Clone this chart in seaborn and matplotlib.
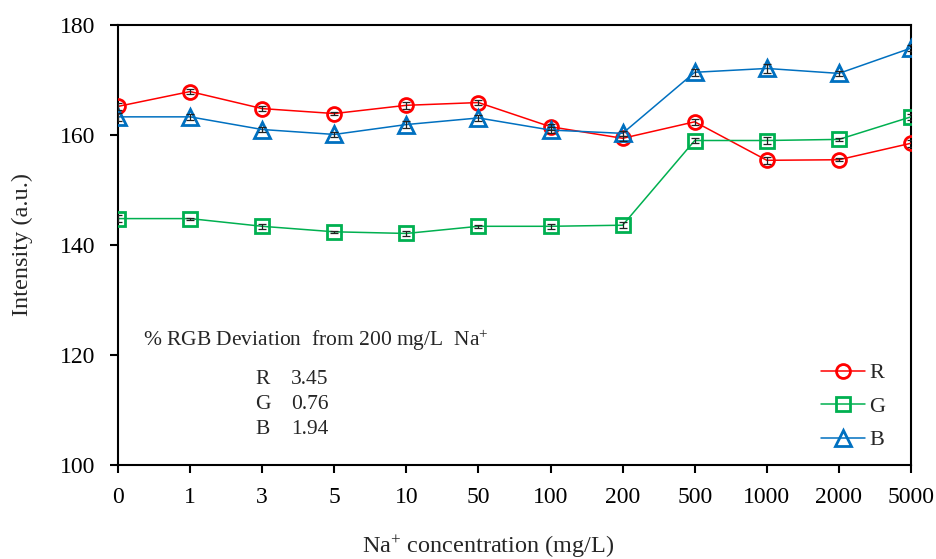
import numpy as np
import pandas as pd
import matplotlib
matplotlib.use("Agg")
import matplotlib.pyplot as plt
import seaborn as sns

categories = ["0", "1", "3", "5", "10", "50", "100", "200", "500", "1000", "2000", "5000"]
R_vals = [165.2, 167.9, 164.8, 163.9, 165.4, 165.9, 161.5, 159.4, 162.4, 155.4, 155.5, 158.5]
G_vals = [144.8, 144.8, 143.4, 142.4, 142.1, 143.4, 143.4, 143.6, 159.0, 159.0, 159.2, 163.3]
B_vals = [163.3, 163.3, 161.0, 160.1, 161.9, 163.1, 160.9, 160.3, 171.4, 172.1, 171.2, 175.8]
R_err = [0.6, 0.4, 0.4, 0.2, 0.6, 0.4, 0.5, 0.4, 0.6, 0.6, 0.3, 0.6]
G_err = [0.6, 0.2, 0.5, 0.2, 0.5, 0.3, 0.5, 0.5, 0.5, 0.6, 0.3, 0.6]
B_err = [0.7, 0.5, 0.5, 0.4, 0.7, 0.5, 0.5, 0.5, 0.6, 0.8, 0.5, 0.6]
deviation_labels = ["R", "G", "B"]
deviation_values = ["3.45", "0.76", "1.94"]

sns.set_theme(style="ticks")
plt.rcParams["font.family"] = ["Liberation Serif", "DejaVu Serif"]
plt.rcParams["mathtext.fontset"] = "custom"
plt.rcParams["mathtext.rm"] = "Liberation Serif"
plt.rcParams["mathtext.it"] = "Liberation Serif:italic"

fig = plt.figure(figsize=(9.36, 5.59), dpi=100)
ax = fig.add_axes([118/936, 1 - 465/559, (911 - 118)/936, (465 - 25)/559])

pos = np.arange(len(categories))
series = [
    ("R", R_vals, R_err, "#FF0000", "o", 10),
    ("G", G_vals, G_err, "#00B050", "s", 10),
    ("B", B_vals, B_err, "#0070C0", "^", 11),
]
for name, vals, errs, col, mk, ms in series:
    sns.lineplot(x=pos, y=vals, color=col, marker=mk, markersize=ms,
                 markerfacecolor="none", markeredgecolor=col, markeredgewidth=2,
                 linewidth=1.1, label=name, ax=ax, zorder=3)
    ax.errorbar(pos, vals, yerr=errs, fmt="none", ecolor="#222222",
                elinewidth=0.9, capsize=3, capthick=0.9, zorder=4)

ax.set_xlim(0, len(categories) - 1)
ax.set_ylim(100, 180)
ax.set_yticks([100, 120, 140, 160, 180])
ax.set_xticks(pos)
ax.set_xticklabels(categories)
for s in ax.spines.values():
    s.set_linewidth(1.5)
    s.set_color("black")
ax.tick_params(axis="both", direction="out", length=6, width=1.5, pad=10,
               labelsize=17, colors="black")
ax.set_xlabel("Na$^{+}$ concentration (mg/L)", fontsize=17.5, va="center")
ax.set_ylabel("Intensity (a.u.)", fontsize=17.5, va="center")
ax.xaxis.set_label_coords(0.467, -0.186)
ax.yaxis.set_label_coords(-0.121, 0.5)

ax.text(0.35, 122.7, "% RGB Deviation  from 200 mg/L  Na$^{+}$", fontsize=15.5,
        va="center", ha="left")
for i, (lab, val) in enumerate(zip(deviation_labels, deviation_values)):
    y = 115.6 - i * 4.6
    ax.text(1.90, y, lab, fontsize=15.5, va="center", ha="left")
    ax.text(2.40, y, val, fontsize=15.5, va="center", ha="left")

leg = ax.legend(loc="lower right", bbox_to_anchor=(0.993, -0.012), frameon=False,
                fontsize=16, handlelength=2.0, handletextpad=0.2, labelspacing=0.58)

fig.savefig("out.png", dpi=100)
